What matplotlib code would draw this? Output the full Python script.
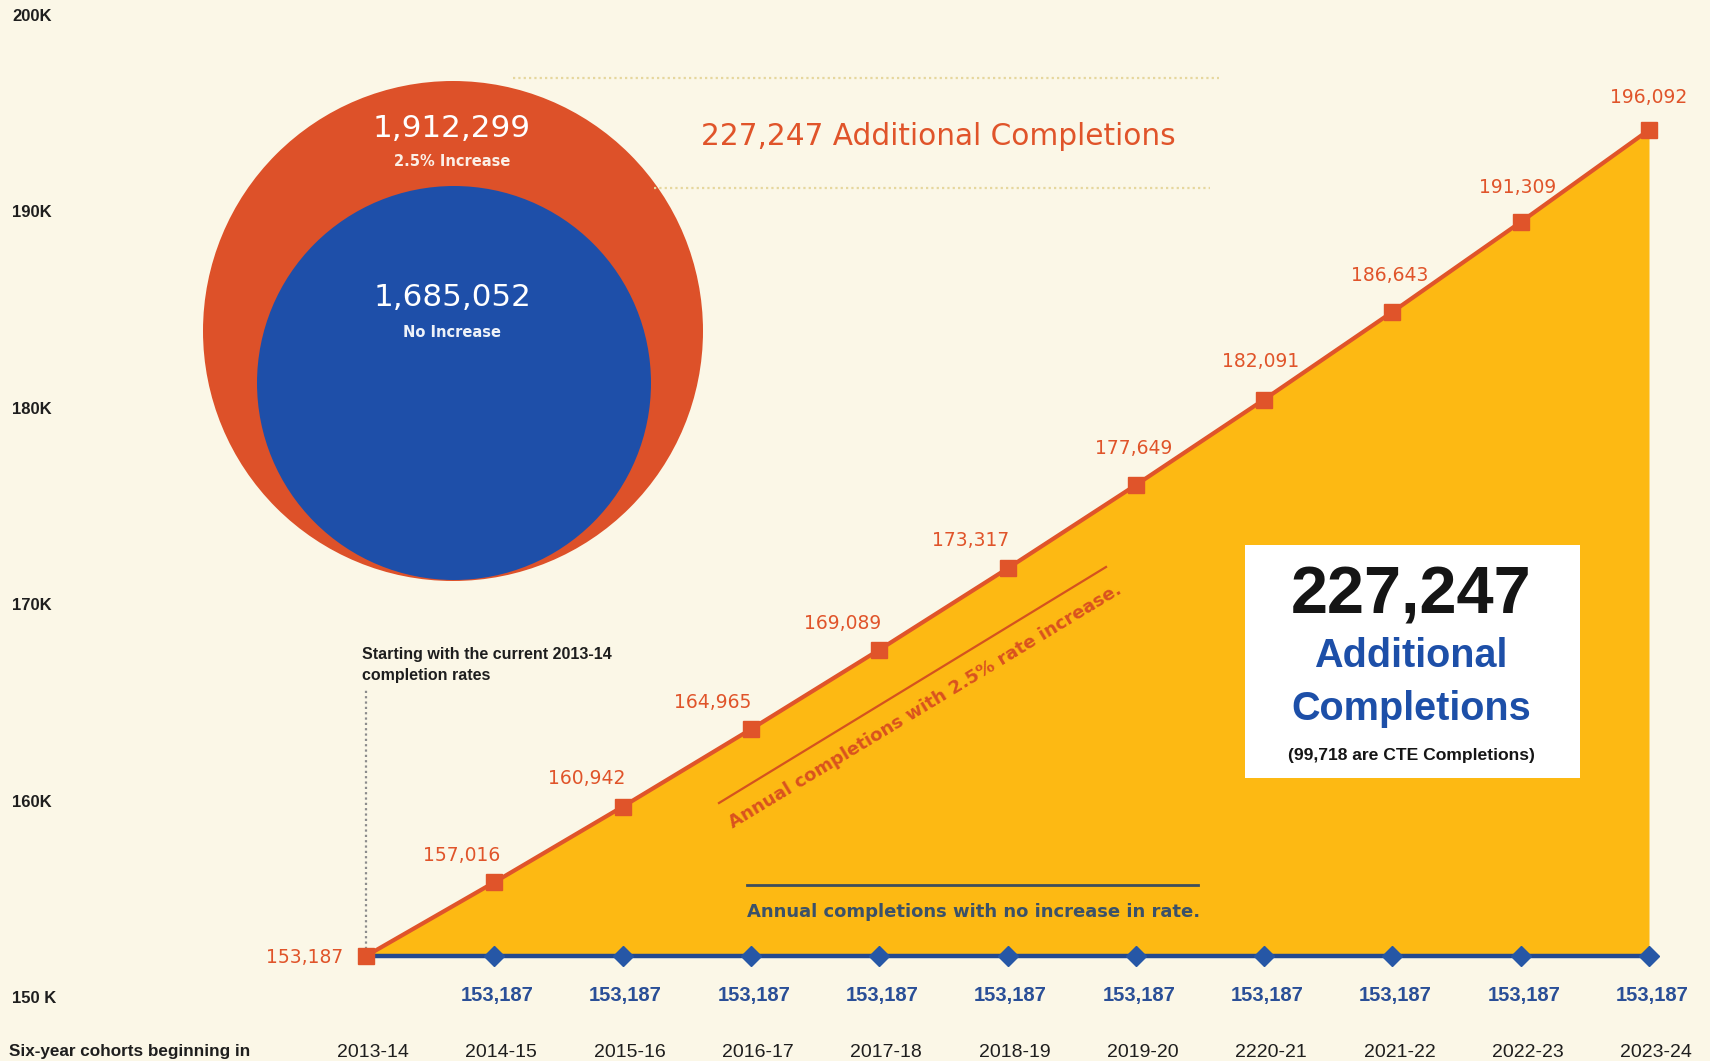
import matplotlib
matplotlib.use("Agg")
import matplotlib.pyplot as plt
from matplotlib.patches import Circle, Rectangle

# ---------------- data ----------------
years = ["2013-14", "2014-15", "2015-16", "2016-17", "2017-18", "2018-19",
         "2019-20", "2220-21", "2021-22", "2022-23", "2023-24"]
with_increase = [153187, 157016, 160942, 164965, 169089, 173317,
                 177649, 182091, 186643, 191309, 196092]
no_increase = [153187] * 11
ytick_values = [150000, 160000, 170000, 180000, 190000, 200000]
ytick_labels = ["150 K", "160K", "170K", "180K", "190K", "200K"]
total_increase = "1,912,299"
total_no_increase = "1,685,052"
additional = "227,247"
cte_additional = "99,718"

# ---------------- style ----------------
plt.rcParams["font.family"] = ["Liberation Sans", "DejaVu Sans"]
BG = "#FBF7E7"
YELLOW = "#FDB913"
ORANGE = "#E0542A"
NAVY = "#23498F"
DIAMOND = "#2657A6"
CIRC_OR = "#DD5129"
CIRC_BL = "#1E4FA9"
W, H = 1710, 1061

fig = plt.figure(figsize=(W / 100, H / 100), dpi=100)
fig.patch.set_facecolor(BG)

# main data axes (full figure)
ax = fig.add_axes([0, 0, 1, 1])
ax.set_facecolor(BG)
ax.set_xlim(-2.8527, 10.4754)
ax.set_ylim(147733, 202844)
ax.axis("off")
xs = list(range(len(years)))

ax.fill_between(xs, no_increase, with_increase, color=YELLOW, lw=0, zorder=1)
ax.plot(xs, no_increase, color=NAVY, lw=3.2, marker="D", ms=10,
        mfc=DIAMOND, mec=DIAMOND, markevery=list(range(1, len(xs))), zorder=3)
ax.plot(xs, with_increase, color=ORANGE, lw=3, marker="s", ms=11,
        mfc=ORANGE, mec=ORANGE, zorder=4)

# labels for the increase series (pixel offsets)
inc_off = [(-23, -7), (-33, 21), (-36, 23), (-38, 21), (-37, 21), (-37, 22),
           (-2, 31), (-3, 33), (-3, 31), (-3, 29), (0, 27)]
for i, v in enumerate(with_increase):
    dx, dy = inc_off[i]
    ax.annotate(f"{v:,}", xy=(xs[i], v), xytext=(dx, dy),
                textcoords="offset pixels", ha="right" if i == 0 else "center",
                va="baseline", color=ORANGE, fontsize=13.5,
                family=["DejaVu Sans"], zorder=6)

for i, v in enumerate(no_increase):
    if i == 0:
        continue
    ax.annotate(f"{v:,}", xy=(xs[i], v), xytext=(3, -45),
                textcoords="offset pixels", ha="center", va="baseline",
                color="#2A4F97", fontsize=14.5, fontweight="bold", zorder=6)

for i, yl in enumerate(years):
    ax.annotate(yl, xy=(xs[i], no_increase[i]), xytext=(7, -101),
                textcoords="offset pixels", ha="center", va="baseline",
                color="#1E1E1E", fontsize=14, zorder=6)

ax.vlines(xs[0], 0.106, 0.351, transform=ax.get_xaxis_transform(),
          colors="#8C8C8C", linestyles=(0, (1, 1.4)), lw=1.6, zorder=2)

# y-axis label axes
lab = fig.add_axes([12 / W, (H - 997) / H, 0.01, (997 - 15) / H])
lab.set_ylim(ytick_values[0], ytick_values[-1])
lab.set_yticks(ytick_values)
lab.set_yticklabels(ytick_labels, ha="left", fontsize=12, fontweight="bold",
                    color="#1E1E1E")
lab.tick_params(axis="y", length=0, pad=0)
lab.set_xticks([])
for s in lab.spines.values():
    s.set_visible(False)
lab.patch.set_alpha(0)

# overlay in pixel coordinates for decorations
ov = fig.add_axes([0, 0, 1, 1], zorder=5)
ov.set_xlim(0, W)
ov.set_ylim(H, 0)
ov.axis("off")
ov.patch.set_alpha(0)

ov.add_patch(Circle((453, 331), 250, color=CIRC_OR, lw=0))
ov.add_patch(Circle((454, 383), 197, color=CIRC_BL, lw=0))
ov.text(452, 137, total_increase, color="white", fontsize=22.3, ha="center",
        va="baseline", family=["DejaVu Sans"])
ov.text(452, 166, "2.5% Increase", color="#FBEFE6", fontsize=10.5, ha="center",
        va="baseline", fontweight="bold", family=["DejaVu Sans"])
ov.text(452, 306, total_no_increase, color="white", fontsize=22.3, ha="center",
        va="baseline", family=["DejaVu Sans"])
ov.text(452, 337, "No Increase", color="#EEF2F8", fontsize=10.5, ha="center",
        va="baseline", fontweight="bold", family=["DejaVu Sans"])

ov.hlines(78, 513, 1219, colors="#E6D79E", linestyles=(0, (1, 1.4)), lw=1.6)
ov.hlines(188, 654, 1210, colors="#E6D79E", linestyles=(0, (1, 1.4)), lw=1.6)
ov.text(701, 145, f"{additional} Additional Completions", color=ORANGE,
        fontsize=21.3, ha="left", va="baseline", family=["DejaVu Sans"])

# start note
ov.text(362, 659, "Starting with the current 2013-14", fontsize=11.5,
        fontweight="bold", color="#1E1E1E", ha="left", va="baseline")
ov.text(362, 680, "completion rates", fontsize=11.5,
        fontweight="bold", color="#1E1E1E", ha="left", va="baseline")

# rotated annotation of increase series
ov.plot([719, 1106], [803, 567], color="#D4521F", lw=1.6)
ov.text(733, 829, "Annual completions with 2.5% rate increase.", rotation=31.2,
        rotation_mode="anchor", ha="left", va="baseline", color="#D9521F",
        fontsize=13.1, fontweight="bold", family=["DejaVu Sans"])

# no increase annotation
ov.plot([747, 1198], [885, 885], color="#3D4E5C", lw=2)
ov.text(747, 917, "Annual completions with no increase in rate.",
        color="#3B5169", fontsize=13, fontweight="bold", ha="left",
        va="baseline", family=["DejaVu Sans"])

# white summary box
ov.add_patch(Rectangle((1245, 545), 335, 233, facecolor="white", lw=0))
ov.text(1411, 613, additional, fontsize=48, fontweight="bold", color="#151515",
        ha="center", va="baseline")
ov.text(1411, 667, "Additional", fontsize=28.5, fontweight="bold",
        color="#1D4FA8", ha="center", va="baseline")
ov.text(1411, 720, "Completions", fontsize=28.5, fontweight="bold",
        color="#1D4FA8", ha="center", va="baseline")
ov.text(1411, 760, f"({cte_additional} are CTE Completions)", fontsize=12.6,
        fontweight="bold", color="#151515", ha="center", va="baseline")

ov.text(9, 1056, "Six-year cohorts beginning in", fontsize=12.3,
        fontweight="bold", color="#1E1E1E", ha="left", va="baseline")

fig.savefig("out.png", dpi=100, facecolor=BG)
